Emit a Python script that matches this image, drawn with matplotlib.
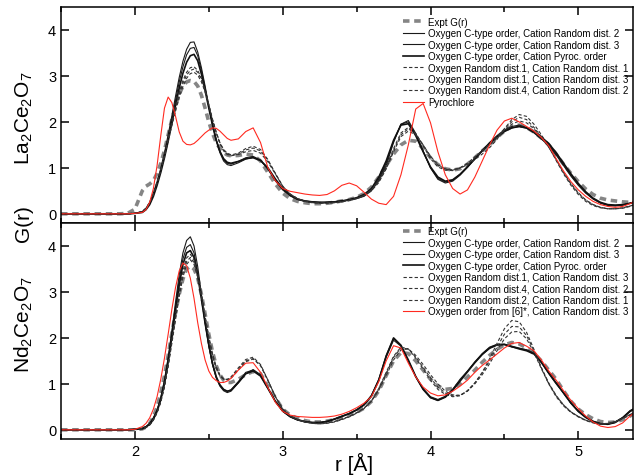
import matplotlib
matplotlib.use('Agg')
import matplotlib.pyplot as plt
from matplotlib.ticker import MultipleLocator

plt.rcParams['font.family'] = ['Liberation Sans', 'DejaVu Sans']
plt.rcParams['mathtext.fontset'] = 'custom'
plt.rcParams['mathtext.rm'] = 'Liberation Sans'
plt.rcParams['mathtext.default'] = 'regular'

# r grid (Angstrom), finer around the first peak
R = [1.5, 1.9, 1.95, 2.0,
     2.05, 2.075, 2.1, 2.125, 2.15, 2.175, 2.2, 2.225, 2.25, 2.275,
     2.3, 2.325, 2.35, 2.375, 2.4, 2.425, 2.45, 2.475, 2.5, 2.525,
     2.55, 2.575, 2.6, 2.625, 2.65,
     2.7, 2.75, 2.8, 2.85, 2.9, 2.95, 3.0, 3.05, 3.1, 3.15,
     3.2, 3.25, 3.3, 3.35, 3.4, 3.45, 3.5, 3.55, 3.6, 3.65,
     3.7, 3.75, 3.8, 3.85, 3.9, 3.95, 4.0, 4.05, 4.1, 4.15,
     4.2, 4.25, 4.3, 4.35, 4.4, 4.45, 4.5, 4.55, 4.6, 4.65,
     4.7, 4.75, 4.8, 4.85, 4.9, 4.95, 5.0, 5.05, 5.1, 5.15,
     5.2, 5.25, 5.3, 5.35, 5.4]

# ---- La2Ce2O7 ----
la_expt = [0, 0, 0.01, 0.1,
           0.5, 0.6, 0.65, 0.72, 0.88, 1.1, 1.38, 1.72, 2.05, 2.35,
           2.6, 2.78, 2.87, 2.9, 2.88, 2.78, 2.58, 2.3, 2.0, 1.75,
           1.55, 1.42, 1.33, 1.28, 1.26,
           1.27, 1.3, 1.28, 1.15, 0.9, 0.65, 0.45, 0.33, 0.27, 0.24,
           0.22, 0.22, 0.23, 0.25, 0.28, 0.31, 0.36, 0.44, 0.58, 0.8,
           1.05, 1.3, 1.5, 1.6, 1.58, 1.42, 1.22, 1.07, 0.98, 0.95,
           0.98, 1.08, 1.22, 1.37, 1.5, 1.66, 1.8, 1.9, 1.93, 1.88,
           1.78, 1.65, 1.5, 1.3, 1.08, 0.88, 0.7, 0.54, 0.42, 0.34,
           0.3, 0.28, 0.26, 0.25, 0.26]
la_ct2 = [0, 0, 0, 0.01,
          0.05, 0.12, 0.25, 0.45, 0.7, 0.99, 1.33, 1.72, 2.13, 2.56,
          2.97, 3.32, 3.58, 3.73, 3.74, 3.52, 3.18, 2.78, 2.35, 1.95,
          1.6, 1.33, 1.15, 1.07, 1.05,
          1.11, 1.19, 1.23, 1.16, 0.97, 0.72, 0.52, 0.39, 0.31, 0.27,
          0.25, 0.24, 0.25, 0.26, 0.28, 0.3, 0.33, 0.38, 0.5, 0.72,
          1.05, 1.55, 1.95, 2.03, 1.75, 1.37, 1.0, 0.75, 0.67, 0.71,
          0.84, 1.01, 1.19, 1.37, 1.55, 1.7, 1.82, 1.9, 1.93, 1.88,
          1.77, 1.63, 1.48, 1.28, 1.05, 0.82, 0.62, 0.45, 0.32, 0.23,
          0.18, 0.17, 0.19, 0.23, 0.28]
la_ct3 = [0, 0, 0, 0.01,
          0.04, 0.11, 0.23, 0.42, 0.66, 0.95, 1.28, 1.66, 2.06, 2.47,
          2.87, 3.2, 3.46, 3.6, 3.62, 3.44, 3.12, 2.74, 2.33, 1.95,
          1.62, 1.36, 1.18, 1.1, 1.08,
          1.14, 1.22, 1.25, 1.17, 0.98, 0.73, 0.53, 0.4, 0.32, 0.28,
          0.26, 0.25, 0.25, 0.26, 0.28, 0.3, 0.34, 0.4, 0.52, 0.75,
          1.1, 1.58, 1.95, 2.0, 1.73, 1.36, 1.0, 0.77, 0.69, 0.73,
          0.86, 1.03, 1.21, 1.38, 1.55, 1.69, 1.8, 1.87, 1.9, 1.86,
          1.76, 1.63, 1.5, 1.3, 1.07, 0.84, 0.63, 0.46, 0.33, 0.24,
          0.19, 0.18, 0.19, 0.23, 0.28]
la_cpy = [0, 0, 0, 0.01,
          0.03, 0.09, 0.2, 0.38, 0.62, 0.9, 1.22, 1.58, 1.97, 2.36,
          2.74, 3.06, 3.3, 3.44, 3.47, 3.33, 3.04, 2.68, 2.3, 1.93,
          1.6, 1.36, 1.2, 1.12, 1.1,
          1.14, 1.2, 1.22, 1.16, 1.0, 0.76, 0.55, 0.41, 0.32, 0.28,
          0.26, 0.25, 0.25, 0.26, 0.28, 0.31, 0.35, 0.42, 0.55, 0.8,
          1.15, 1.6, 1.93, 1.96, 1.7, 1.35, 1.02, 0.8, 0.71, 0.74,
          0.86, 1.02, 1.2, 1.37, 1.53, 1.67, 1.79, 1.87, 1.9, 1.87,
          1.79, 1.67, 1.53, 1.33, 1.1, 0.87, 0.66, 0.48, 0.34, 0.25,
          0.2, 0.19, 0.2, 0.23, 0.27]
la_r11 = [0, 0, 0, 0.01,
          0.05, 0.12, 0.25, 0.45, 0.7, 0.98, 1.3, 1.65, 2.0, 2.35,
          2.65, 2.9, 3.08, 3.18, 3.2, 3.12, 2.95, 2.7, 2.38, 2.05,
          1.78, 1.55, 1.4, 1.32, 1.28,
          1.32, 1.42, 1.47, 1.4, 1.18, 0.88, 0.6, 0.43, 0.33, 0.28,
          0.25, 0.24, 0.24, 0.25, 0.27, 0.3, 0.34, 0.4, 0.52, 0.72,
          1.02, 1.42, 1.76, 1.88, 1.75, 1.48, 1.2, 1.02, 0.95, 0.94,
          1.0, 1.1, 1.24, 1.38, 1.52, 1.68, 1.85, 2.0, 2.1, 2.05,
          1.88, 1.68, 1.45, 1.18, 0.9, 0.65, 0.45, 0.3, 0.2, 0.14,
          0.11, 0.11, 0.13, 0.17, 0.22]
la_r13 = [0, 0, 0, 0.01,
          0.04, 0.11, 0.23, 0.42, 0.67, 0.95, 1.27, 1.62, 1.97, 2.3,
          2.6, 2.84, 3.02, 3.12, 3.15, 3.08, 2.92, 2.68, 2.37, 2.05,
          1.76, 1.53, 1.37, 1.29, 1.26,
          1.3, 1.39, 1.43, 1.37, 1.16, 0.88, 0.6, 0.43, 0.33, 0.27,
          0.24, 0.23, 0.23, 0.24, 0.26, 0.29, 0.33, 0.39, 0.5, 0.68,
          0.98, 1.38, 1.72, 1.85, 1.74, 1.5, 1.24, 1.06, 0.97, 0.95,
          0.99, 1.07, 1.18, 1.3, 1.44, 1.62, 1.85, 2.05, 2.16, 2.12,
          1.95, 1.72, 1.46, 1.16, 0.87, 0.62, 0.42, 0.27, 0.18, 0.13,
          0.11, 0.11, 0.12, 0.16, 0.21]
la_r42 = [0, 0, 0, 0.01,
          0.05, 0.12, 0.24, 0.43, 0.67, 0.94, 1.25, 1.58, 1.92, 2.24,
          2.53, 2.77, 2.95, 3.05, 3.08, 3.02, 2.87, 2.65, 2.36, 2.05,
          1.77, 1.54, 1.38, 1.3, 1.27,
          1.29, 1.35, 1.38, 1.32, 1.13, 0.87, 0.6, 0.43, 0.33, 0.27,
          0.24, 0.23, 0.23, 0.24, 0.26, 0.29, 0.33, 0.4, 0.52, 0.7,
          0.98, 1.35, 1.68, 1.8, 1.72, 1.5, 1.25, 1.07, 0.98, 0.96,
          1.0, 1.09, 1.22, 1.36, 1.5, 1.65, 1.82, 1.95, 2.02, 1.98,
          1.85, 1.67, 1.45, 1.18, 0.9, 0.66, 0.46, 0.3, 0.2, 0.14,
          0.11, 0.11, 0.13, 0.17, 0.22]
la_pyro = [0, 0, 0, 0.01,
           0.03, 0.09, 0.25, 0.55, 1.05, 1.7, 2.3, 2.54, 2.42, 2.12,
           1.78, 1.58, 1.51, 1.5, 1.53, 1.6, 1.68, 1.76, 1.82, 1.87,
           1.86, 1.8, 1.72, 1.64, 1.6,
           1.63, 1.79, 1.87, 1.55, 1.0, 0.72, 0.55, 0.49, 0.46, 0.43,
           0.41, 0.4, 0.42, 0.5, 0.62, 0.67, 0.61, 0.47, 0.32, 0.23,
           0.2, 0.38, 0.85, 1.5, 2.28, 2.4, 1.98, 1.35, 0.85, 0.55,
           0.43, 0.52, 0.8, 1.15, 1.5, 1.82, 2.02, 2.08, 2.0, 1.9,
           1.8, 1.66, 1.48, 1.2, 0.93, 0.7, 0.52, 0.38, 0.27, 0.2,
           0.16, 0.14, 0.16, 0.22, 0.3]

# ---- Nd2Ce2O7 ----
nd_expt = [0, 0, 0, 0,
           0.02, 0.06, 0.14, 0.28, 0.5, 0.8, 1.18, 1.62, 2.1, 2.55,
           2.95, 3.28, 3.5, 3.56, 3.5, 3.3, 2.95, 2.52, 2.08, 1.7,
           1.4, 1.2, 1.08, 1.03, 1.03,
           1.1, 1.2, 1.27, 1.22, 0.95, 0.7, 0.45, 0.32, 0.25, 0.2,
           0.17, 0.17, 0.19, 0.22, 0.27, 0.32, 0.38, 0.47, 0.62, 0.85,
           1.18, 1.5, 1.68, 1.66, 1.5, 1.3, 1.1, 0.95, 0.88, 0.9,
           1.0, 1.15, 1.3, 1.47, 1.62, 1.75, 1.85, 1.9, 1.87, 1.78,
           1.66, 1.5, 1.3, 1.1, 0.85, 0.62, 0.45, 0.33, 0.24, 0.18,
           0.16, 0.17, 0.22, 0.3, 0.4]
nd_ct2 = [0, 0, 0, 0.01,
          0.03, 0.07, 0.14, 0.26, 0.43, 0.7, 1.08, 1.57, 2.15, 2.78,
          3.38, 3.85, 4.12, 4.2, 4.0, 3.55, 2.95, 2.35, 1.83, 1.42,
          1.13, 0.95, 0.85, 0.81, 0.84,
          1.02, 1.22, 1.31, 1.2, 0.92, 0.62, 0.4, 0.28, 0.21, 0.17,
          0.15, 0.15, 0.18, 0.23, 0.29, 0.35, 0.43, 0.55, 0.75, 1.1,
          1.62, 1.99, 1.83, 1.5, 1.15, 0.88, 0.7, 0.64, 0.72, 0.88,
          1.1, 1.28, 1.48, 1.66, 1.8, 1.86, 1.86, 1.8, 1.77, 1.74,
          1.66, 1.46, 1.22, 1.0, 0.8, 0.58, 0.4, 0.27, 0.18, 0.13,
          0.12, 0.17, 0.27, 0.42, 0.5]
nd_ct3 = [0, 0, 0, 0.01,
          0.03, 0.07, 0.14, 0.26, 0.43, 0.7, 1.07, 1.55, 2.1, 2.7,
          3.27, 3.72, 3.97, 4.03, 3.85, 3.42, 2.88, 2.32, 1.82, 1.42,
          1.14, 0.97, 0.87, 0.84, 0.87,
          1.05, 1.25, 1.3, 1.18, 0.9, 0.62, 0.41, 0.29, 0.22, 0.18,
          0.16, 0.16, 0.19, 0.24, 0.3, 0.36, 0.44, 0.55, 0.74, 1.08,
          1.58, 1.95, 1.82, 1.5, 1.16, 0.9, 0.72, 0.66, 0.73, 0.88,
          1.08, 1.27, 1.47, 1.64, 1.77, 1.84, 1.85, 1.82, 1.78, 1.74,
          1.67, 1.48, 1.24, 1.02, 0.81, 0.59, 0.41, 0.28, 0.19, 0.14,
          0.13, 0.17, 0.26, 0.4, 0.48]
nd_cpy = [0, 0, 0, 0.01,
          0.02, 0.06, 0.12, 0.23, 0.4, 0.65, 1.0, 1.47, 2.02, 2.6,
          3.15, 3.6, 3.85, 3.9, 3.75, 3.35, 2.85, 2.32, 1.85, 1.45,
          1.16, 0.98, 0.88, 0.84, 0.86,
          1.03, 1.22, 1.28, 1.17, 0.9, 0.62, 0.41, 0.29, 0.22, 0.18,
          0.16, 0.16, 0.18, 0.23, 0.29, 0.35, 0.43, 0.54, 0.73, 1.08,
          1.6, 2.0, 1.84, 1.52, 1.16, 0.88, 0.7, 0.64, 0.71, 0.86,
          1.06, 1.26, 1.46, 1.64, 1.78, 1.85, 1.86, 1.81, 1.76, 1.72,
          1.65, 1.47, 1.24, 1.02, 0.8, 0.58, 0.4, 0.27, 0.18, 0.13,
          0.12, 0.16, 0.26, 0.4, 0.5]
nd_r13 = [0, 0, 0, 0.01,
          0.02, 0.05, 0.11, 0.22, 0.38, 0.62, 0.96, 1.42, 1.95, 2.5,
          3.03, 3.46, 3.74, 3.82, 3.7, 3.38, 2.95, 2.45, 1.98, 1.6,
          1.33, 1.17, 1.1, 1.1, 1.15,
          1.35, 1.53, 1.58, 1.42, 1.08, 0.72, 0.45, 0.3, 0.22, 0.17,
          0.14, 0.13, 0.14, 0.17, 0.22, 0.28, 0.36, 0.46, 0.62, 0.88,
          1.22, 1.58, 1.78, 1.76, 1.58, 1.36, 1.13, 0.93, 0.8, 0.74,
          0.75, 0.85, 1.02, 1.25, 1.55, 1.88, 2.2, 2.38, 2.35, 2.12,
          1.75, 1.35, 1.0, 0.72, 0.52, 0.38, 0.28, 0.2, 0.15, 0.12,
          0.13, 0.17, 0.24, 0.32, 0.38]
nd_r42 = [0, 0, 0, 0.01,
          0.02, 0.05, 0.11, 0.22, 0.38, 0.62, 0.96, 1.41, 1.93, 2.46,
          2.97, 3.39, 3.66, 3.75, 3.64, 3.34, 2.93, 2.45, 2.0, 1.62,
          1.35, 1.18, 1.1, 1.09, 1.13,
          1.32, 1.5, 1.55, 1.4, 1.07, 0.72, 0.45, 0.3, 0.22, 0.17,
          0.14, 0.13, 0.15, 0.18, 0.23, 0.29, 0.37, 0.47, 0.63, 0.9,
          1.25, 1.6, 1.8, 1.76, 1.56, 1.32, 1.08, 0.88, 0.77, 0.72,
          0.74, 0.85, 1.02, 1.24, 1.5, 1.8, 2.08, 2.25, 2.24, 2.05,
          1.72, 1.35, 1.02, 0.75, 0.54, 0.39, 0.29, 0.21, 0.16, 0.13,
          0.14, 0.18, 0.25, 0.33, 0.38]
nd_r21 = [0, 0, 0, 0.01,
          0.02, 0.05, 0.11, 0.21, 0.37, 0.6, 0.93, 1.37, 1.88, 2.4,
          2.9, 3.32, 3.6, 3.7, 3.6, 3.32, 2.93, 2.47, 2.03, 1.66,
          1.38, 1.2, 1.11, 1.09, 1.12,
          1.3, 1.48, 1.54, 1.4, 1.08, 0.73, 0.46, 0.31, 0.23, 0.18,
          0.15, 0.14, 0.15, 0.18, 0.23, 0.29, 0.37, 0.47, 0.62, 0.86,
          1.18, 1.52, 1.74, 1.76, 1.62, 1.42, 1.2, 1.0, 0.84, 0.76,
          0.75, 0.84, 1.0, 1.2, 1.44, 1.72, 1.98, 2.13, 2.14, 1.98,
          1.68, 1.33, 1.0, 0.74, 0.54, 0.39, 0.29, 0.21, 0.16, 0.13,
          0.14, 0.18, 0.25, 0.33, 0.38]
nd_ref6 = [0, 0, 0, 0.01,
           0.07, 0.14, 0.26, 0.45, 0.72, 1.1, 1.56, 2.08, 2.62, 3.1,
           3.46, 3.63, 3.57, 3.3, 2.86, 2.33, 1.88, 1.52, 1.28, 1.14,
           1.07, 1.03, 1.03, 1.06, 1.12,
           1.3, 1.45, 1.46, 1.25, 0.92, 0.6, 0.4, 0.32, 0.29, 0.28,
           0.27, 0.27, 0.28, 0.3, 0.34, 0.4, 0.48, 0.58, 0.72, 1.05,
           1.5, 1.83, 1.78, 1.45, 1.15, 0.93, 0.8, 0.74, 0.76, 0.84,
           0.95, 1.08, 1.25, 1.4, 1.52, 1.65, 1.78, 1.88, 1.9, 1.82,
           1.72, 1.52, 1.28, 1.08, 0.85, 0.64, 0.46, 0.3, 0.17, 0.08,
           0.05, 0.07, 0.15, 0.3, 0.42]

EXPT = dict(color='#858585', lw=2.6, ls=(0, (1.8, 1.3)))
SOLID = dict(color='#1a1a1a', lw=0.8, ls='-')
SOLID_PY = dict(color='#111111', lw=1.2, ls='-')
DASH = dict(color='#333333', lw=0.8, ls=(0, (3, 2)))
RED = dict(color='#ff2a20', lw=0.8, ls='-')

fig = plt.figure(figsize=(6.34, 4.77), dpi=100)
ax1 = fig.add_axes([61 / 634, 1 - 224 / 477, 572 / 634, 216 / 477])
ax2 = fig.add_axes([61 / 634, 1 - 440 / 477, 572 / 634, 216 / 477])

ax1.plot(R, la_expt, label='Expt G(r)', **EXPT)
ax1.plot(R, la_ct2, label='Oxygen C-type order, Cation Random dist. 2', **SOLID)
ax1.plot(R, la_ct3, label='Oxygen C-type order, Cation Random dist. 3', **SOLID)
ax1.plot(R, la_cpy, label='Oxygen C-type order, Cation Pyroc. order', **SOLID_PY)
ax1.plot(R, la_r11, label='Oxygen Random dist.1, Cation Random dist. 1', **DASH)
ax1.plot(R, la_r13, label='Oxygen Random dist.1, Cation Random dist. 3', **DASH)
ax1.plot(R, la_r42, label='Oxygen Random dist.4, Cation Random dist. 2', **DASH)
ax1.plot(R, la_pyro, label='Pyrochlore', **RED)

ax2.plot(R, nd_expt, label='Expt G(r)', **EXPT)
ax2.plot(R, nd_ct2, label='Oxygen C-type order, Cation Random dist. 2', **SOLID)
ax2.plot(R, nd_ct3, label='Oxygen C-type order, Cation Random dist. 3', **SOLID)
ax2.plot(R, nd_cpy, label='Oxygen C-type order, Cation Pyroc. order', **SOLID_PY)
ax2.plot(R, nd_r13, label='Oxygen Random dist.1, Cation Random dist. 3', **DASH)
ax2.plot(R, nd_r42, label='Oxygen Random dist.4, Cation Random dist. 2', **DASH)
ax2.plot(R, nd_r21, label='Oxygen Random dist.2, Cation Random dist. 1', **DASH)
ax2.plot(R, nd_ref6, label='Oxygen order from [6]*, Cation Random dist. 3', **RED)

for ax in (ax1, ax2):
    ax.set_xlim(1.5, 5.37)
    ax.set_ylim(-0.2, 4.5)
    ax.xaxis.set_major_locator(MultipleLocator(1))
    ax.xaxis.set_minor_locator(MultipleLocator(0.5))
    ax.yaxis.set_major_locator(MultipleLocator(1))
    ax.tick_params(which='both', direction='in', top=True, right=True,
                   width=1.1, labelsize=10.5)
    ax.tick_params(which='major', length=6)
    ax.tick_params(which='minor', length=3.5)
    for s in ax.spines.values():
        s.set_linewidth(1.1)

ax1.tick_params(labelbottom=False)

leg_kw = dict(loc='upper left', frameon=False, fontsize=7, handlelength=2.2,
              handletextpad=0.35, labelspacing=0.15, borderaxespad=0, borderpad=0)
ax1.legend(bbox_to_anchor=(0.598, 0.955), **leg_kw)
ax2.legend(bbox_to_anchor=(0.598, 0.985), **leg_kw)

fig.text(24 / 634, 1 - 118 / 477, 'La$_2$Ce$_2$O$_7$', rotation=90,
         ha='center', va='center', fontsize=15)
fig.text(24 / 634, 1 - 325 / 477, 'Nd$_2$Ce$_2$O$_7$', rotation=90,
         ha='center', va='center', fontsize=15)
fig.text(24 / 634, 1 - 224 / 477, 'G(r)', rotation=90,
         ha='center', va='center', fontsize=15)
fig.text(354 / 634, 1 - 464 / 477, 'r [Å]', ha='center', va='center', fontsize=15)

fig.savefig('out.png', dpi=100)
